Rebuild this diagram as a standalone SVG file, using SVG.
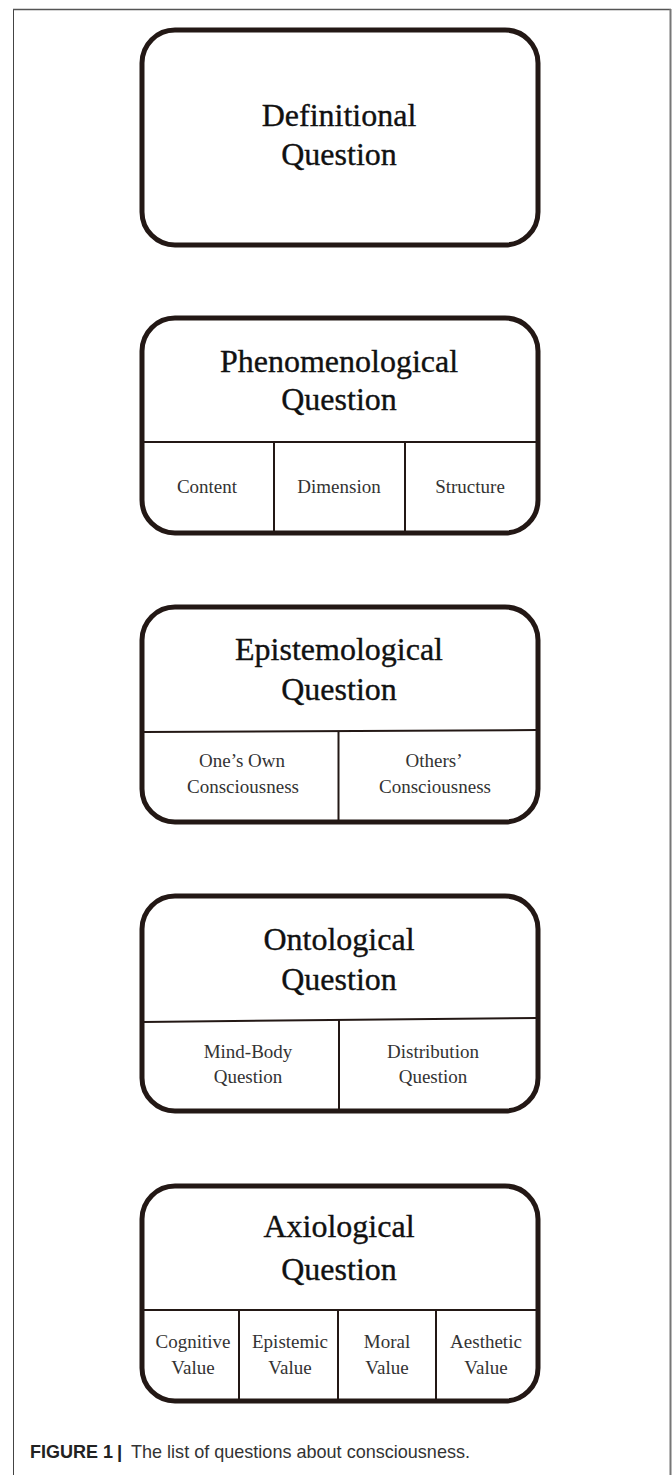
<svg xmlns="http://www.w3.org/2000/svg" width="672" height="1475" viewBox="0 0 672 1475">
<style>
.box{fill:#fff;stroke:#231815;stroke-width:5}
.div{stroke:#231815;stroke-width:2;fill:none}
.title{font-family:"Liberation Serif","Times New Roman",serif;font-size:32px;fill:#111;stroke:#111;stroke-width:0.35;text-anchor:middle}
.lab{font-family:"Liberation Serif","Times New Roman",serif;font-size:19px;fill:#333;text-anchor:middle}
.cap{font-family:"Liberation Sans",Arial,sans-serif;font-size:18.5px;fill:#333}
.capb{font-family:"Liberation Sans",Arial,sans-serif;font-size:18.5px;font-weight:bold;fill:#222}
</style>
<rect x="0" y="0" width="672" height="1475" fill="#fff"/>
<g id="frame">
<line x1="13.5" y1="9" x2="13.5" y2="1475" stroke="#444" stroke-width="1"/>
<line x1="13" y1="9.5" x2="671" y2="9.5" stroke="#555" stroke-width="1.5"/>
<line x1="670.5" y1="9" x2="670.5" y2="1475" stroke="#777" stroke-width="2"/>
</g>
<g id="connectors"></g>
<g id="definitional">
<rect class="box" x="142" y="30" width="396" height="215" rx="33"/>
<text class="title" x="339" y="126">Definitional</text>
<text class="title" x="339" y="165">Question</text>
</g>
<g id="phenomenological">
<rect class="box" x="142" y="318" width="396" height="215" rx="33"/>
<text class="title" x="339" y="372">Phenomenological</text>
<text class="title" x="339" y="410">Question</text>
<line class="div" x1="143" y1="442" x2="537" y2="442"/>
<line class="div" x1="274" y1="442" x2="274" y2="532"/>
<line class="div" x1="405" y1="442" x2="405" y2="532"/>
<text class="lab" x="207" y="493">Content</text>
<text class="lab" x="339" y="493">Dimension</text>
<text class="lab" x="470" y="493">Structure</text>
</g>
<g id="epistemological">
<rect class="box" x="142" y="607" width="396" height="215" rx="33"/>
<text class="title" x="339" y="660">Epistemological</text>
<text class="title" x="339" y="700">Question</text>
<line class="div" x1="143" y1="732" x2="537" y2="730"/>
<line class="div" x1="338.5" y1="731" x2="338.5" y2="821"/>
<text class="lab" x="242" y="767">One’s Own</text>
<text class="lab" x="243" y="793">Consciousness</text>
<text class="lab" x="434" y="767">Others’</text>
<text class="lab" x="435" y="793">Consciousness</text>
</g>
<g id="ontological">
<rect class="box" x="142" y="896" width="396" height="215" rx="33"/>
<text class="title" x="339" y="950">Ontological</text>
<text class="title" x="339" y="990">Question</text>
<line class="div" x1="143" y1="1022" x2="537" y2="1018"/>
<line class="div" x1="339" y1="1020" x2="339" y2="1110"/>
<text class="lab" x="248" y="1058">Mind-Body</text>
<text class="lab" x="248" y="1083">Question</text>
<text class="lab" x="433" y="1058">Distribution</text>
<text class="lab" x="433" y="1083">Question</text>
</g>
<g id="axiological">
<rect class="box" x="142" y="1186" width="396" height="215" rx="33"/>
<text class="title" x="339" y="1237">Axiological</text>
<text class="title" x="339" y="1280">Question</text>
<line class="div" x1="143" y1="1310" x2="537" y2="1310"/>
<line class="div" x1="239" y1="1310" x2="239" y2="1400"/>
<line class="div" x1="338" y1="1310" x2="338" y2="1400"/>
<line class="div" x1="436" y1="1310" x2="436" y2="1400"/>
<text class="lab" x="193" y="1348">Cognitive</text>
<text class="lab" x="193" y="1374">Value</text>
<text class="lab" x="290" y="1348">Epistemic</text>
<text class="lab" x="290" y="1374">Value</text>
<text class="lab" x="387" y="1348">Moral</text>
<text class="lab" x="387" y="1374">Value</text>
<text class="lab" x="486" y="1348">Aesthetic</text>
<text class="lab" x="486" y="1374">Value</text>
</g>
<g id="caption">
<text class="capb" x="30" y="1458" textLength="83" lengthAdjust="spacingAndGlyphs">FIGURE 1</text>
<text class="capb" x="117" y="1458">|</text>
<text class="cap" x="131" y="1458" textLength="339" lengthAdjust="spacingAndGlyphs">The list of questions about consciousness.</text>
</g>
</svg>
